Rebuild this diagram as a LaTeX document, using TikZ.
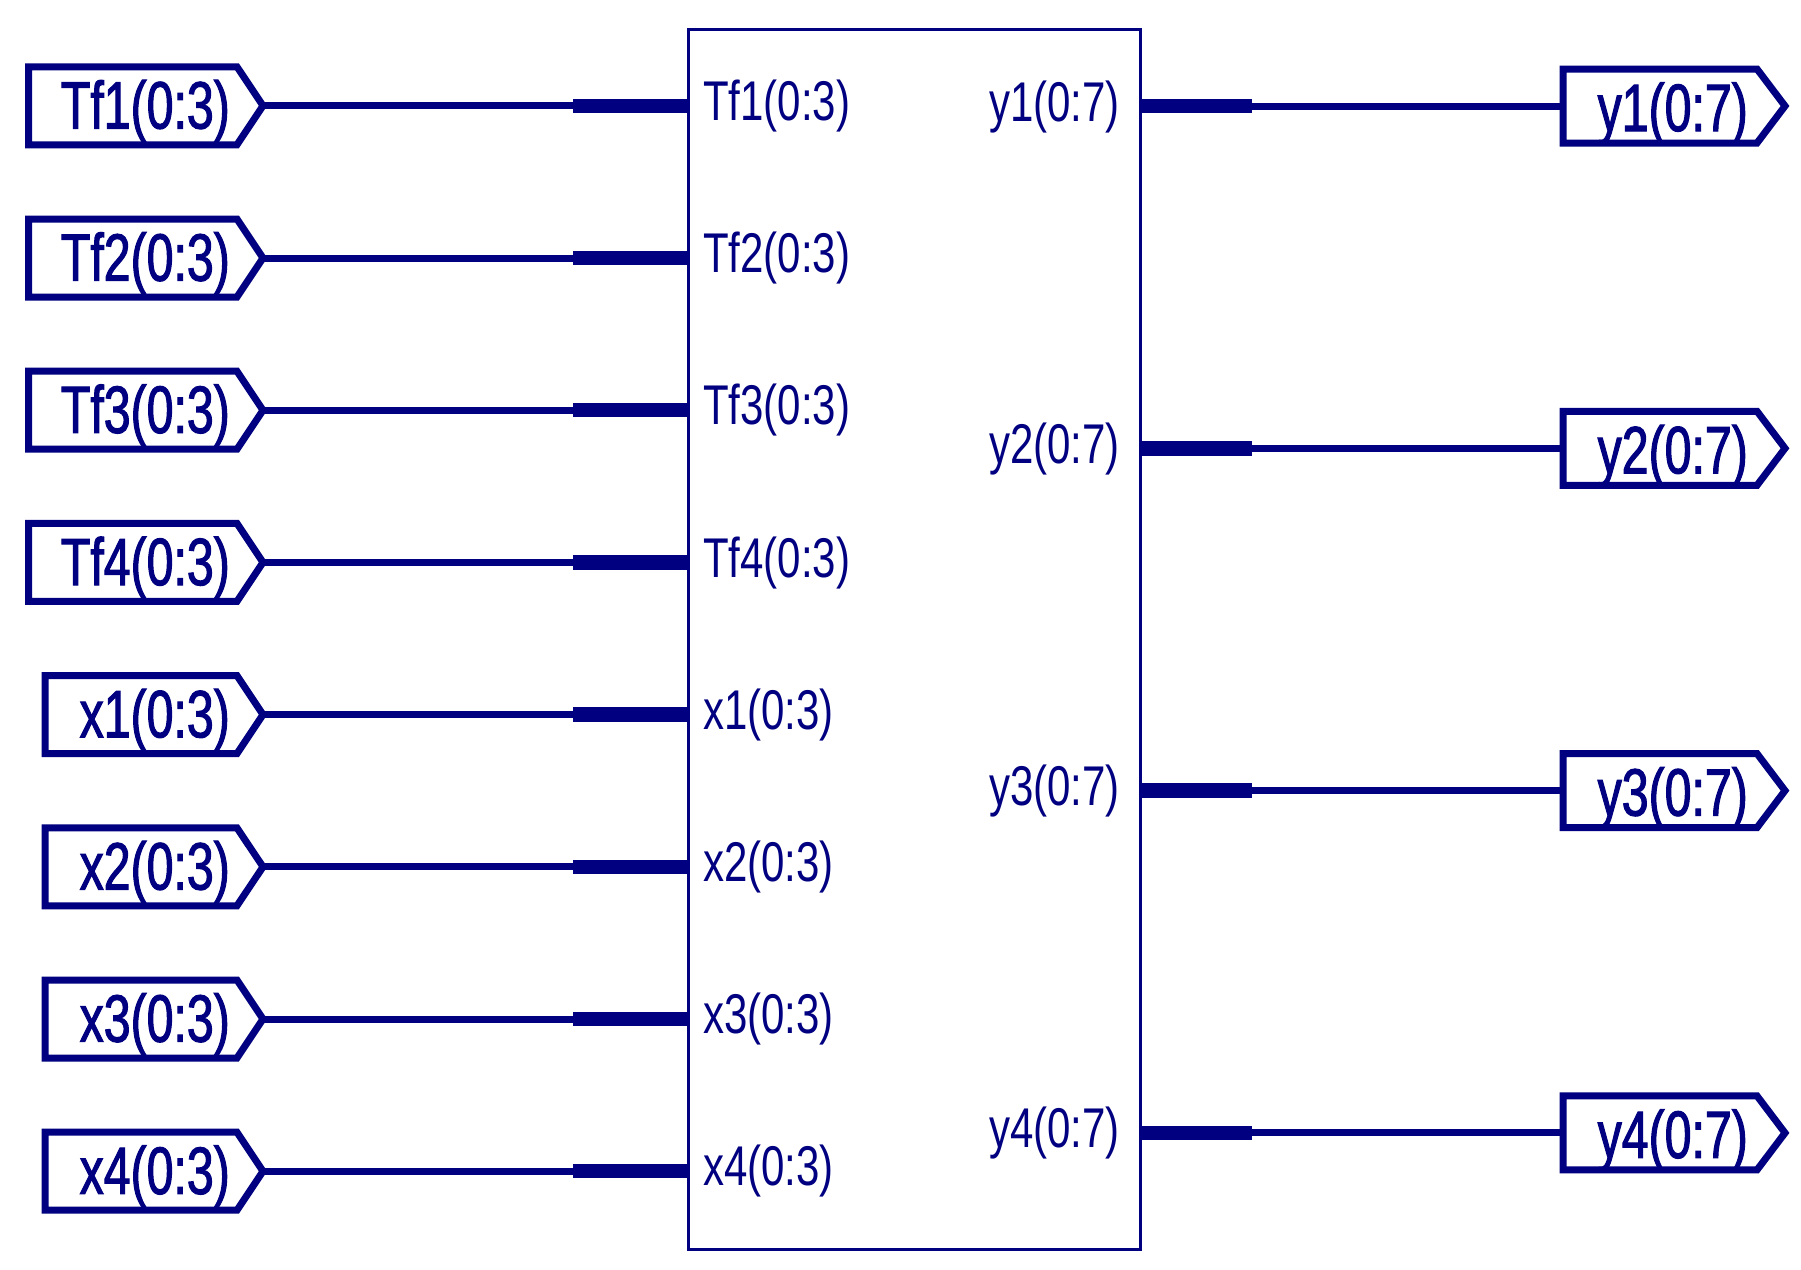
\documentclass[tikz,border=0pt]{standalone}
\usepackage{fontspec}
\setmainfont{Liberation Sans}
\newfontfamily\pinfont[FakeStretch=0.75]{Liberation Sans}
\newfontfamily\portfont[FakeStretch=0.72, FakeBold=1.5]{Liberation Sans}
\usepackage{tikz}
\usetikzlibrary{shapes.symbols}
\definecolor{navy}{RGB}{0,0,128}

\begin{document}
\begin{tikzpicture}[
            x = 1pt, y = -1pt, % one unit per pixel, y down
            every node/.style = {text = navy},
            block/.style = {draw = navy, line width = 3pt, minimum width = 452pt,
                minimum height = 1220pt, outer sep = 0pt},
            inport/.style = {signal, signal to = east, draw = navy, line width = 7pt,
                signal pointer angle = 112.6, minimum width = 234.5pt,
                minimum height = 78pt, inner sep = 0pt, outer sep = 0pt},
            outport/.style = {signal, signal to = east, draw = navy, line width = 7pt,
                signal pointer angle = 105.8, minimum width = 222pt,
                minimum height = 74pt, inner sep = 0pt, outer sep = 0pt},
            portlabel/.style = {inner sep = 0pt, font = \portfont\fontsize{67}{70}\selectfont},
            pinlabel/.style = {inner sep = 0pt, font = \pinfont\fontsize{56}{60}\selectfont},
            wire/.style = {draw = navy, line width = 7pt}, % thin net
            bus/.style = {draw = navy, line width = 14.5pt} % thick stub at the block
        ]

        \useasboundingbox (0,0) rectangle (1801,1269);

        \node[block] (blk) at (914,639) {};

        % inputs
        \node[inport, anchor = west] (tf1) at (28.5,105.8) {};
        \node[inport, anchor = west] (tf2) at (28.5,258) {};
        \node[inport, anchor = west] (tf3) at (28.5,410.2) {};
        \node[inport, anchor = west] (tf4) at (28.5,562.4) {};
        \node[inport, anchor = west, minimum width = 218pt] (x1) at (45,714.6) {};
        \node[inport, anchor = west, minimum width = 218pt] (x2) at (45,866.8) {};
        \node[inport, anchor = west, minimum width = 218pt] (x3) at (45,1019) {};
        \node[inport, anchor = west, minimum width = 218pt] (x4) at (45,1171.2) {};

        \node[portlabel, anchor = base east] (tf1name) at (230,128.5) {Tf1(0:3)};
        \node[portlabel, anchor = base east] (tf2name) at (230,280.7) {Tf2(0:3)};
        \node[portlabel, anchor = base east] (tf3name) at (230,432.9) {Tf3(0:3)};
        \node[portlabel, anchor = base east] (tf4name) at (230,585.1) {Tf4(0:3)};
        \node[portlabel, anchor = base east] (x1name) at (230,737.3) {x1(0:3)};
        \node[portlabel, anchor = base east] (x2name) at (230,889.5) {x2(0:3)};
        \node[portlabel, anchor = base east] (x3name) at (230,1041.7) {x3(0:3)};
        \node[portlabel, anchor = base east] (x4name) at (230,1193.9) {x4(0:3)};

        \node[pinlabel, anchor = base west] (tf1pin) at (703,120.5) {Tf1(0:3)};
        \node[pinlabel, anchor = base west] (tf2pin) at (703,272.7) {Tf2(0:3)};
        \node[pinlabel, anchor = base west] (tf3pin) at (703,424.9) {Tf3(0:3)};
        \node[pinlabel, anchor = base west] (tf4pin) at (703,577.1) {Tf4(0:3)};
        \node[pinlabel, anchor = base west] (x1pin) at (703,729.3) {x1(0:3)};
        \node[pinlabel, anchor = base west] (x2pin) at (703,881.5) {x2(0:3)};
        \node[pinlabel, anchor = base west] (x3pin) at (703,1033.7) {x3(0:3)};
        \node[pinlabel, anchor = base west] (x4pin) at (703,1185.9) {x4(0:3)};

        \coordinate (tf1stub) at (573,105.8);
        \coordinate (tf2stub) at (573,258);
        \coordinate (tf3stub) at (573,410.2);
        \coordinate (tf4stub) at (573,562.4);
        \coordinate (x1stub) at (573,714.6);
        \coordinate (x2stub) at (573,866.8);
        \coordinate (x3stub) at (573,1019);
        \coordinate (x4stub) at (573,1171.2);

        \path[wire] (tf1.east) -- (tf1stub);
        \path[wire] (tf2.east) -- (tf2stub);
        \path[wire] (tf3.east) -- (tf3stub);
        \path[wire] (tf4.east) -- (tf4stub);
        \path[wire] (x1.east) -- (x1stub);
        \path[wire] (x2.east) -- (x2stub);
        \path[wire] (x3.east) -- (x3stub);
        \path[wire] (x4.east) -- (x4stub);

        \path[bus] (tf1stub) -- (tf1stub -| blk.west);
        \path[bus] (tf2stub) -- (tf2stub -| blk.west);
        \path[bus] (tf3stub) -- (tf3stub -| blk.west);
        \path[bus] (tf4stub) -- (tf4stub -| blk.west);
        \path[bus] (x1stub) -- (x1stub -| blk.west);
        \path[bus] (x2stub) -- (x2stub -| blk.west);
        \path[bus] (x3stub) -- (x3stub -| blk.west);
        \path[bus] (x4stub) -- (x4stub -| blk.west);

        % outputs
        \node[outport, anchor = west] (y1) at (1563,106) {};
        \node[outport, anchor = west] (y2) at (1563,448.3) {};
        \node[outport, anchor = west] (y3) at (1563,790.6) {};
        \node[outport, anchor = west] (y4) at (1563,1132.9) {};

        \node[portlabel, anchor = base east] (y1name) at (1748,131) {y1(0:7)};
        \node[portlabel, anchor = base east] (y2name) at (1748,473.3) {y2(0:7)};
        \node[portlabel, anchor = base east] (y3name) at (1748,815.6) {y3(0:7)};
        \node[portlabel, anchor = base east] (y4name) at (1748,1157.9) {y4(0:7)};

        \node[pinlabel, anchor = base east] (y1pin) at (1120,121) {y1(0:7)};
        \node[pinlabel, anchor = base east] (y2pin) at (1120,463.3) {y2(0:7)};
        \node[pinlabel, anchor = base east] (y3pin) at (1120,805.6) {y3(0:7)};
        \node[pinlabel, anchor = base east] (y4pin) at (1120,1147.9) {y4(0:7)};

        \coordinate (y1stub) at (1252,106);
        \coordinate (y2stub) at (1252,448.3);
        \coordinate (y3stub) at (1252,790.6);
        \coordinate (y4stub) at (1252,1132.9);

        \path[bus] (y1stub -| blk.east) -- (y1stub);
        \path[bus] (y2stub -| blk.east) -- (y2stub);
        \path[bus] (y3stub -| blk.east) -- (y3stub);
        \path[bus] (y4stub -| blk.east) -- (y4stub);

        \path[wire] (y1stub) -- (y1.west);
        \path[wire] (y2stub) -- (y2.west);
        \path[wire] (y3stub) -- (y3.west);
        \path[wire] (y4stub) -- (y4.west);

  \end{tikzpicture}
\end{document}
